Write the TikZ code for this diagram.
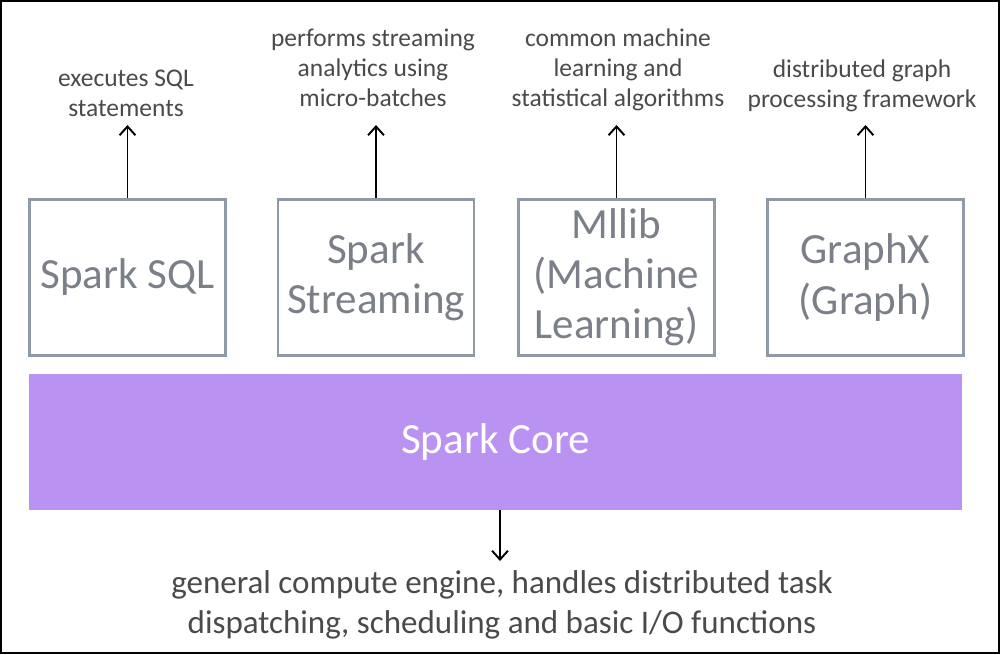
\documentclass[tikz,border=0pt]{standalone}
\usepackage{fontspec}
\setmainfont{Carlito}
\usepackage{xcolor}
\usetikzlibrary{arrows.meta}
\definecolor{notegray}{HTML}{4A4A4A}
\definecolor{boxgray}{HTML}{7A7F88}
\definecolor{edgegray}{HTML}{8F99A8}
\definecolor{corepurple}{HTML}{B992F2}
\tikzset{
  module/.style={draw=edgegray, line width=1.2pt, minimum width=3.92cm, minimum height=3.12cm,
    align=center, text=boxgray, font=\fontsize{24.5}{28.5}\selectfont},
  note/.style={align=center, text=notegray, font=\fontsize{14.5}{17}\selectfont},
  arr/.style={->, line width=1.1pt},
}
\begin{document}
\begin{tikzpicture}[x=0.02cm, y=-0.02cm, >={Straight Barb[length=5pt,width=9pt]}]
        \useasboundingbox (0,0) rectangle (1000,654);
        \draw[line width=1.2pt] (1,1) rectangle (999,653);

        % modules
        \node[module] (sql)    at (127.5,277.5) {Spark SQL};
        \node[module] (stream) at (376,277.5)   {Spark\\Streaming};
        \node[module] (mllib)  at (616.5,277.5) {Mllib\\(Machine\\Learning)};
        \node[module] (graphx) at (865.5,277.5) {GraphX\\(Graph)};
        \node[fill=corepurple, minimum width=18.66cm, minimum height=2.72cm, text=white,
              font=\fontsize{24.5}{28.5}\selectfont] (core) at (495.5,442) {Spark Core};

        % notes
        \node[note] (sqlnote)    at (126,93)  {executes SQL\\statements};
        \node[note] (streamnote) at (373,68)  {performs streaming\\analytics using\\micro-batches};
        \node[note] (mllibnote)  at (618,70)  {common machine\\learning and\\statistical algorithms};
        \node[note] (graphxnote) at (862,86)  {distributed graph\\processing framework};
        \node[note, font=\fontsize{18.8}{23}\selectfont] (corenote) at (502,605)
              {general compute engine, handles distributed task\\dispatching, scheduling and basic I/O functions};

        \coordinate (sqltip)    at (sql.north |- 0,125);
        \coordinate (streamtip) at (stream.north |- 0,125);
        \coordinate (mllibtip)  at (mllib.north |- 0,125);
        \coordinate (graphxtip) at (graphx.north |- 0,125);
        \coordinate (coretip)   at (500,561);

        \draw[arr] (sql.north) -- (sqltip);
        \draw[arr] (stream.north) -- (streamtip);
        \draw[arr] (mllib.north) -- (mllibtip);
        \draw[arr] (graphx.north) -- (graphxtip);
        \draw[arr] (core.south -| coretip) -- (coretip);
    \end{tikzpicture}
\end{document}
